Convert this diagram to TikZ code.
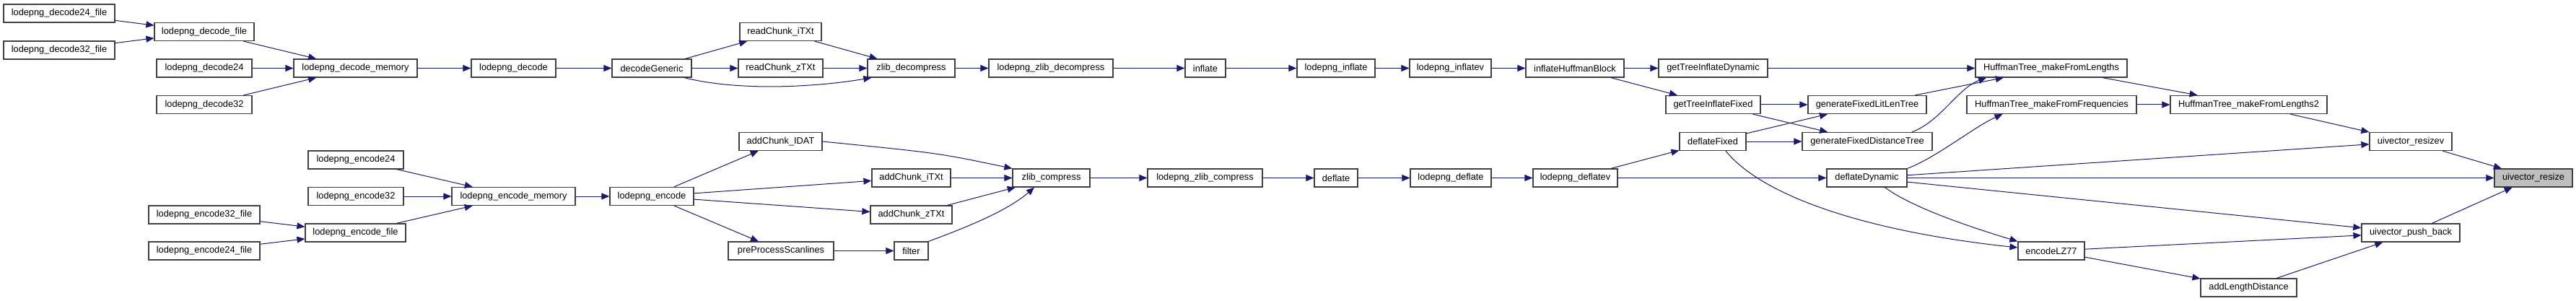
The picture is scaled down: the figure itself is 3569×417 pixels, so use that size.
\documentclass[tikz,border=0pt]{standalone}
\usepackage{fontspec}
\setmainfont{Liberation Sans}
\usepackage{tikz}
\usetikzlibrary{arrows.meta}
\definecolor{callBlue}{HTML}{191970}
\colorlet{boxGray}{gray!50!white}

\begin{document}
\begin{tikzpicture}[x=1pt, y=-1pt,
        every node/.style={font=\fontsize{12.8pt}{15pt}\selectfont},
        fnbox/.style={draw=black!75, line width=1.2pt, fill=white, minimum height=25pt, inner xsep=2pt, inner ysep=0pt},
        call/.style={draw=callBlue, line width=1pt, -{Triangle[length=11pt,width=9pt]}}]
        \useasboundingbox (0,0) rectangle (3569,417);

        % decoding side
        \node[fnbox, minimum width=154pt] (decode24File) at (82,18.5) {lodepng\_decode24\_file};
        \node[fnbox, minimum width=154pt] (decode32File) at (82,69.5) {lodepng\_decode32\_file};
        \node[fnbox, minimum width=138pt] (decodeFile) at (283,44) {lodepng\_decode\_file};
        \node[fnbox, minimum width=132pt] (decode24) at (283,94.5) {lodepng\_decode24};
        \node[fnbox, minimum width=132pt] (decode32) at (283,145) {lodepng\_decode32};
        \node[fnbox, minimum width=171pt] (decodeMem) at (492.5,94.5) {lodepng\_decode\_memory};
        \node[fnbox, minimum width=117pt] (decode) at (711.5,94.5) {lodepng\_decode};
        \node[fnbox, minimum width=110pt] (decodeGen) at (903,94.5) {decodeGeneric};
        \node[fnbox, minimum width=113pt] (readITXt) at (1081.5,44) {readChunk\_iTXt};
        \node[fnbox, minimum width=117pt] (readZTXt) at (1081.5,94.5) {readChunk\_zTXt};
        \node[fnbox, minimum width=121pt] (zlibDec) at (1262.5,94.5) {zlib\_decompress};
        \node[fnbox, minimum width=172pt] (lzlibDec) at (1456,94.5) {lodepng\_zlib\_decompress};
        \node[fnbox, minimum width=56pt] (inflate) at (1670,94.5) {inflate};
        \node[fnbox, minimum width=108pt] (linflate) at (1851,94.5) {lodepng\_inflate};
        \node[fnbox, minimum width=113pt] (linflatev) at (2009.5,94.5) {lodepng\_inflatev};
        \node[fnbox, minimum width=136pt] (huffBlock) at (2182,94.5) {inflateHuffmanBlock};
        \node[fnbox, minimum width=151pt] (treeDyn) at (2373.5,94.5) {getTreeInflateDynamic};
        \node[fnbox, minimum width=131pt] (treeFix) at (2373.5,145) {getTreeInflateFixed};
        \node[fnbox, minimum width=164pt] (litLenTree) at (2587,145) {generateFixedLitLenTree};
        \node[fnbox, minimum width=180pt] (distTree) at (2587,196) {generateFixedDistanceTree};
        \node[fnbox, minimum width=210pt] (fromLengths) at (2842,94.5) {HuffmanTree\_makeFromLengths};
        \node[fnbox, minimum width=235pt] (fromFreq) at (2842.5,145) {HuffmanTree\_makeFromFrequencies};
        \node[fnbox, minimum width=217pt] (fromLengths2) at (3115.5,145) {HuffmanTree\_makeFromLengths2};
        \node[fnbox, minimum width=114pt] (resizev) at (3340,196) {uivector\_resizev};
        \node[fnbox, minimum width=108pt, fill=boxGray] (resize) at (3510,246.5) {uivector\_resize};
        \node[fnbox, minimum width=136pt] (pushBack) at (3340,322.5) {uivector\_push\_back};
        \node[fnbox, minimum width=133pt] (addLenDist) at (3115.5,398.5) {addLengthDistance};

        % encoding side
        \node[fnbox, minimum width=132pt] (encode24) at (493,221.5) {lodepng\_encode24};
        \node[fnbox, minimum width=132pt] (encode32) at (493,272) {lodepng\_encode32};
        \node[fnbox, minimum width=154pt] (encode32File) at (283,297.5) {lodepng\_encode32\_file};
        \node[fnbox, minimum width=154pt] (encode24File) at (283,347.5) {lodepng\_encode24\_file};
        \node[fnbox, minimum width=139pt] (encodeFile) at (492.5,322.5) {lodepng\_encode\_file};
        \node[fnbox, minimum width=171pt] (encodeMem) at (711.5,272) {lodepng\_encode\_memory};
        \node[fnbox, minimum width=116pt] (encode) at (903,272) {lodepng\_encode};
        \node[fnbox, minimum width=115pt] (chunkIDAT) at (1081.5,196) {addChunk\_IDAT};
        \node[fnbox, minimum width=109pt] (chunkITXt) at (1262.5,246.5) {addChunk\_iTXt};
        \node[fnbox, minimum width=113pt] (chunkZTXt) at (1262.5,297.5) {addChunk\_zTXt};
        \node[fnbox, minimum width=146pt] (preProc) at (1082,347.5) {preProcessScanlines};
        \node[fnbox, minimum width=47pt] (filter) at (1262.5,347.5) {filter};
        \node[fnbox, minimum width=107pt] (zlibComp) at (1456.5,246.5) {zlib\_compress};
        \node[fnbox, minimum width=159pt] (lzlibComp) at (1669.5,246.5) {lodepng\_zlib\_compress};
        \node[fnbox, minimum width=60pt] (deflate) at (1851,246.5) {deflate};
        \node[fnbox, minimum width=112pt] (ldeflate) at (2010,246.5) {lodepng\_deflate};
        \node[fnbox, minimum width=117pt] (ldeflatev) at (2182.5,246.5) {lodepng\_deflatev};
        \node[fnbox, minimum width=92pt] (deflFixed) at (2373,196) {deflateFixed};
        \node[fnbox, minimum width=111pt] (deflDyn) at (2586.5,246.5) {deflateDynamic};
        \node[fnbox, minimum width=92pt] (encLZ77) at (2842,347.5) {encodeLZ77};

        % calls, decoding side
        \draw[call] (decode24File) -- (decodeFile);
        \draw[call] (decode32File) -- (decodeFile);
        \draw[call] (decodeFile) -- (decodeMem);
        \draw[call] (decode24) -- (decodeMem);
        \draw[call] (decode32) -- (decodeMem);
        \draw[call] (decodeMem) -- (decode);
        \draw[call] (decode) -- (decodeGen);
        \draw[call] (decodeGen) -- (readITXt);
        \draw[call] (decodeGen) -- (readZTXt);
        \draw[call] ([xshift=45pt]decodeGen.south) .. controls +(80,20) and +(-70,12) .. ([xshift=6pt]zlibDec.south west);
        \draw[call] (readITXt) -- (zlibDec);
        \draw[call] (readZTXt) -- (zlibDec);
        \draw[call] (zlibDec) -- (lzlibDec);
        \draw[call] (lzlibDec) -- (inflate);
        \draw[call] (inflate) -- (linflate);
        \draw[call] (linflate) -- (linflatev);
        \draw[call] (linflatev) -- (huffBlock);
        \draw[call] (huffBlock) -- (treeDyn);
        \draw[call] (huffBlock) -- (treeFix);
        \draw[call] (treeDyn) -- (fromLengths);
        \draw[call] (treeFix) -- (litLenTree);
        \draw[call] (treeFix) -- (distTree);
        \draw[call] (litLenTree) -- (fromLengths);
        \draw[call] ([xshift=62pt]distTree.north) .. controls +(40,-15) and +(-40,15) .. ([xshift=-90pt]fromLengths.south);
        \draw[call] (fromLengths) -- (fromLengths2);
        \draw[call] (fromFreq) -- (fromLengths2);
        \draw[call] (fromLengths2) -- (resizev);
        \draw[call] (resizev) -- (resize);
        \draw[call] (pushBack) -- (resize);
        \draw[call] (addLenDist) -- (pushBack);

        % calls, encoding side
        \draw[call] (encode32File) -- (encodeFile);
        \draw[call] (encode24File) -- (encodeFile);
        \draw[call] (encode24) -- (encodeMem);
        \draw[call] (encode32) -- (encodeMem);
        \draw[call] (encodeFile) -- (encodeMem);
        \draw[call] (encodeMem) -- (encode);
        \draw[call] (encode) -- (chunkIDAT);
        \draw[call] (encode) -- (chunkITXt);
        \draw[call] (encode) -- (chunkZTXt);
        \draw[call] (encode) -- (preProc);
        \draw[call] (preProc) -- (filter);
        \draw[call] (chunkIDAT.east) .. controls (1300,212) .. (zlibComp.north west);
        \draw[call] (chunkITXt) -- (zlibComp);
        \draw[call] (chunkZTXt) -- (zlibComp);
        \draw[call] (filter.north east) .. controls +(40,-15) and +(-40,35) .. ([xshift=-23.5pt]zlibComp.south);
        \draw[call] (zlibComp) -- (lzlibComp);
        \draw[call] (lzlibComp) -- (deflate);
        \draw[call] (deflate) -- (ldeflate);
        \draw[call] (ldeflate) -- (ldeflatev);
        \draw[call] (ldeflatev) -- (deflFixed);
        \draw[call] (ldeflatev) -- (deflDyn);
        \draw[call] (deflFixed) -- (litLenTree);
        \draw[call] (deflFixed) -- (distTree);
        \draw[call] ([xshift=18pt]deflFixed.south) .. controls (2440,270) and (2580,320) .. ([yshift=4.5pt]encLZ77.west);
        \draw[call] (deflDyn.north east) .. controls +(40,-15) and +(-40,18) .. ([xshift=-68pt]fromFreq.south);
        \draw[call] (deflDyn) -- (resizev);
        \draw[call] (deflDyn) -- (resize);
        \draw[call] (deflDyn) -- (pushBack);
        \draw[call] ([xshift=25pt]deflDyn.south) .. controls +(40,30) and +(-50,-15) .. (encLZ77.north west);
        \draw[call] (encLZ77) -- (pushBack);
        \draw[call] (encLZ77) -- (addLenDist);
\end{tikzpicture}
\end{document}
